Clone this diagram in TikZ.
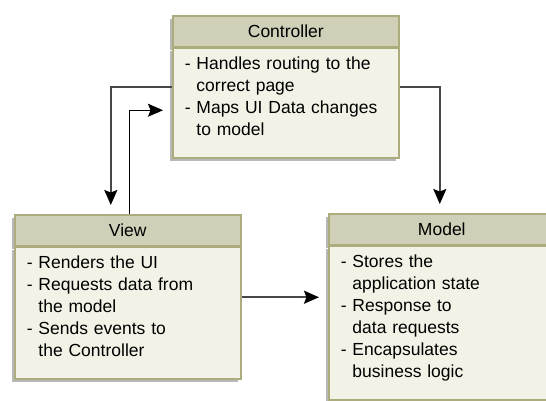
\documentclass[tikz,border=0pt]{standalone}
\usepackage{fontspec}
\setmainfont{Liberation Sans}
\usetikzlibrary{arrows.meta, positioning, shadows}

\definecolor{boxline}{RGB}{172,172,124}
\definecolor{headfill}{RGB}{208,207,184}
\definecolor{bodyfill}{RGB}{243,242,230}
\newcommand{\hangpad}{\hphantom{- }}
\newcommand{\bottompad}{\rule[-15pt]{0pt}{0pt}}

\begin{document}
\begin{tikzpicture}[
    x=1pt, y=1pt,
    every node/.style={font=\fontsize{17.5}{22}\selectfont},
    boxshadow/.style={
        drop shadow={shadow xshift=-3pt, shadow yshift=-3pt,
                     fill=black!28, opacity=1}
    },
    head/.style={
        rectangle, draw=boxline, line width=1.6pt, fill=headfill,
        minimum width=226pt, minimum height=31pt, inner sep=0pt,
        anchor=north west, boxshadow
    },
    body/.style={
        rectangle, draw=boxline, line width=1.6pt, fill=bodyfill,
        text width=202pt, inner xsep=12pt, inner ysep=8pt,
        align=left, execute at end node=\bottompad, boxshadow
    },
    arrow/.style={-{Stealth[length=15pt, width=13pt, inset=2.5pt, color=black]},
        line width=2pt, draw=black!72, shorten >=9pt},
    thinarrow/.style={-{Stealth[length=15pt, width=13pt, inset=2.5pt]},
        line width=1.1pt, draw=black, shorten >=9pt}
]
\clip (0,0) rectangle (546,400);
\fill[white] (0,0) rectangle (546,400);

% Controller
\node[head] (ctrlhead) at (172,385) {Controller};
\node[body, below=0pt of ctrlhead] (ctrl)
    {- Handles routing to the\\ \hangpad correct page\\
     - Maps UI Data changes\\ \hangpad to model};

% View
\node[head] (viewhead) at (14,186) {View};
\node[body, below=0pt of viewhead] (view)
    {- Renders the UI\\ - Requests data from\\ \hangpad the model\\
     - Sends events to\\ \hangpad the Controller};

% Model
\node[head] (modelhead) at (328,187) {Model};
\node[body, below=0pt of modelhead] (model)
    {- Stores the\\ \hangpad application state\\ - Response to\\
     \hangpad data requests\\ - Encapsulates\\ \hangpad business logic};

\draw[arrow] ([yshift=16pt]ctrl.west) -| ([xshift=-17pt]viewhead.north);
\draw[thinarrow] ([xshift=2pt]viewhead.north) |- ([yshift=-7pt]ctrl.west);
\draw[arrow] ([yshift=16pt]ctrl.east) -| ([xshift=-2pt]modelhead.north);
\draw[arrow] ([yshift=16pt]view.east) -- ([yshift=16pt]view.east -| model.west);

\end{tikzpicture}
\end{document}
